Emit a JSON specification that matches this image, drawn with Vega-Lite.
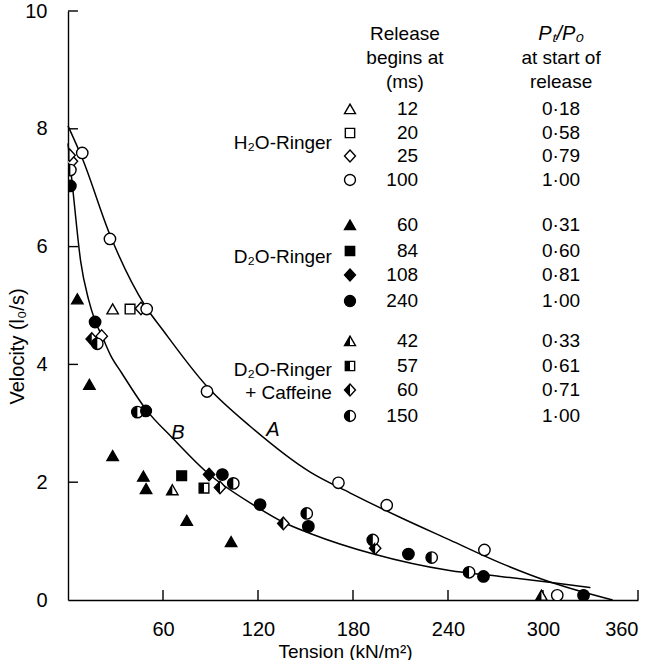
{
  "$schema": "https://vega.github.io/schema/vega-lite/v6.json",
  "width": 570,
  "height": 589,
  "autosize": {"type": "none"},
  "padding": {"left": 68, "top": 11, "right": 19, "bottom": 60},
  "background": "white",
  "config": {
    "view": {"stroke": null},
    "font": "Liberation Sans",
    "axis": {
      "grid": false,
      "domainColor": "black",
      "domainWidth": 1.4,
      "ticks": false,
      "tickSize": 0,
      "labelFont": "Liberation Sans",
      "labelFontSize": 20,
      "labelColor": "black",
      "titleFont": "Liberation Sans",
      "titleFontSize": 19,
      "titleFontWeight": "normal",
      "titleColor": "black"
    }
  },
  "datasets": {
    "pts": [
      {"s": "H12", "g": "H", "x": 28.2, "y": 4.94},
      {"s": "H20", "g": "H", "x": 39.2, "y": 4.94},
      {"s": "H25", "g": "H", "x": 2.5, "y": 7.45},
      {"s": "H25", "g": "H", "x": 21.3, "y": 4.48},
      {"s": "H25", "g": "H", "x": 46.1, "y": 4.95},
      {"s": "H100", "g": "H", "x": 9, "y": 7.59},
      {"s": "H100", "g": "H", "x": 26.5, "y": 6.13},
      {"s": "H100", "g": "H", "x": 49.7, "y": 4.94},
      {"s": "H100", "g": "H", "x": 87.8, "y": 3.54},
      {"s": "H100", "g": "H", "x": 170.8, "y": 1.99},
      {"s": "H100", "g": "H", "x": 201.3, "y": 1.61},
      {"s": "H100", "g": "H", "x": 263, "y": 0.85},
      {"s": "H100", "g": "H", "x": 309, "y": 0.08},
      {"s": "D60", "g": "D", "x": 5.9, "y": 5.11},
      {"s": "D60", "g": "D", "x": 13.5, "y": 3.66},
      {"s": "D60", "g": "D", "x": 28.2, "y": 2.45},
      {"s": "D60", "g": "D", "x": 47.6, "y": 2.1},
      {"s": "D60", "g": "D", "x": 49.3, "y": 1.89},
      {"s": "D60", "g": "D", "x": 75, "y": 1.35},
      {"s": "D60", "g": "D", "x": 103, "y": 0.99},
      {"s": "D84", "g": "D", "x": 71.8, "y": 2.11},
      {"s": "D108", "g": "D", "x": 89.1, "y": 2.13},
      {"s": "D240", "g": "D", "x": 1.5, "y": 7.03},
      {"s": "D240", "g": "D", "x": 17.1, "y": 4.72},
      {"s": "D240", "g": "D", "x": 49.1, "y": 3.21},
      {"s": "D240", "g": "D", "x": 97.5, "y": 2.13},
      {"s": "D240", "g": "D", "x": 121.3, "y": 1.62},
      {"s": "D240", "g": "D", "x": 151.8, "y": 1.25},
      {"s": "D240", "g": "D", "x": 215, "y": 0.78},
      {"s": "D240", "g": "D", "x": 262.4, "y": 0.4},
      {"s": "D240", "g": "D", "x": 325.6, "y": 0.08},
      {"s": "C42", "g": "C", "x": 65.9, "y": 1.87},
      {"s": "C42", "g": "C", "x": 299, "y": 0.08},
      {"s": "C57", "g": "C", "x": 85.9, "y": 1.9},
      {"s": "C60", "g": "C", "x": 1, "y": 7.55},
      {"s": "C60", "g": "C", "x": 15, "y": 4.43},
      {"s": "C60", "g": "C", "x": 96, "y": 1.91},
      {"s": "C60", "g": "C", "x": 136, "y": 1.3},
      {"s": "C60", "g": "C", "x": 194, "y": 0.88},
      {"s": "C150", "g": "C", "x": 1.5, "y": 7.3},
      {"s": "C150", "g": "C", "x": 18.5, "y": 4.35},
      {"s": "C150", "g": "C", "x": 43.8, "y": 3.19},
      {"s": "C150", "g": "C", "x": 104.4, "y": 1.98},
      {"s": "C150", "g": "C", "x": 150.8, "y": 1.47},
      {"s": "C150", "g": "C", "x": 192.5, "y": 1.02},
      {"s": "C150", "g": "C", "x": 229.7, "y": 0.72},
      {"s": "C150", "g": "C", "x": 253.3, "y": 0.47}
    ],
    "leg": [
      {"s": "H12", "g": "H", "num": "12", "ratio": "0·18", "ly": 8.336},
      {"s": "H20", "g": "H", "num": "20", "ratio": "0·58", "ly": 7.929},
      {"s": "H25", "g": "H", "num": "25", "ratio": "0·79", "ly": 7.538},
      {"s": "H100", "g": "H", "num": "100", "ratio": "1·00", "ly": 7.131},
      {"s": "D60", "g": "D", "num": "60", "ratio": "0·31", "ly": 6.367},
      {"s": "D84", "g": "D", "num": "84", "ratio": "0·60", "ly": 5.925},
      {"s": "D108", "g": "D", "num": "108", "ratio": "0·81", "ly": 5.518},
      {"s": "D240", "g": "D", "num": "240", "ratio": "1·00", "ly": 5.076},
      {"s": "C42", "g": "C", "num": "42", "ratio": "0·33", "ly": 4.397},
      {"s": "C57", "g": "C", "num": "57", "ratio": "0·61", "ly": 3.973},
      {"s": "C60", "g": "C", "num": "60", "ratio": "0·71", "ly": 3.565},
      {"s": "C150", "g": "C", "num": "150", "ratio": "1·00", "ly": 3.124}
    ],
    "cur": [
      {"c": "A", "x": 0, "y": 8.05},
      {"c": "A", "x": 9, "y": 7.5},
      {"c": "A", "x": 26.5, "y": 6.2},
      {"c": "A", "x": 48.6, "y": 5.0},
      {"c": "A", "x": 60, "y": 4.58},
      {"c": "A", "x": 88, "y": 3.62},
      {"c": "A", "x": 115, "y": 2.95},
      {"c": "A", "x": 153, "y": 2.17},
      {"c": "A", "x": 178, "y": 1.82},
      {"c": "A", "x": 210, "y": 1.4},
      {"c": "A", "x": 241, "y": 1.02},
      {"c": "A", "x": 273, "y": 0.63},
      {"c": "A", "x": 304, "y": 0.31},
      {"c": "A", "x": 344, "y": 0},
      {"c": "B", "x": 0, "y": 7.75},
      {"c": "B", "x": 3.4, "y": 6.88},
      {"c": "B", "x": 8, "y": 5.75},
      {"c": "B", "x": 13, "y": 5.1},
      {"c": "B", "x": 17, "y": 4.75},
      {"c": "B", "x": 22, "y": 4.45},
      {"c": "B", "x": 27, "y": 4.15},
      {"c": "B", "x": 34, "y": 3.85},
      {"c": "B", "x": 49.7, "y": 3.22},
      {"c": "B", "x": 66, "y": 2.75},
      {"c": "B", "x": 88, "y": 2.16},
      {"c": "B", "x": 118, "y": 1.6},
      {"c": "B", "x": 136, "y": 1.32},
      {"c": "B", "x": 153, "y": 1.13},
      {"c": "B", "x": 193, "y": 0.78},
      {"c": "B", "x": 241, "y": 0.5},
      {"c": "B", "x": 273, "y": 0.4},
      {"c": "B", "x": 304, "y": 0.3},
      {"c": "B", "x": 330, "y": 0.21}
    ]
  },
  "layer": [
    {
      "data": {"name": "cur"},
      "mark": {"type": "line", "color": "black", "strokeWidth": 1.5, "interpolate": "monotone"},
      "encoding": {
        "x": {
          "field": "x", "type": "quantitative",
          "scale": {"domain": [0, 360], "nice": false, "zero": true},
          "axis": {
            "values": [0, 60, 120, 180, 240, 300, 360],
            "labelExpr": "datum.value == 0 ? '' : datum.label",
            "labelPadding": 19,
            "title": "Tension (kN/m²)",
            "titleX": 277,
            "titleY": 57,
            "titleAlign": "center",
            "titleBaseline": "alphabetic"
          }
        },
        "y": {
          "field": "y", "type": "quantitative",
          "scale": {"domain": [0, 10], "nice": false},
          "axis": {
            "values": [0, 2, 4, 6, 8, 10],
            "format": "d",
            "labelPadding": 21,
            "title": "Velocity (l₀/s)",
            "titleFontSize": 20,
            "titleX": -41,
            "titleY": 335,
            "titleAlign": "center"
          }
        },
        "detail": {"field": "c"}
      }
    },
    {
      "data": {"values": [{"v": 60}, {"v": 120}, {"v": 180}, {"v": 240}, {"v": 300}, {"v": 360}]},
      "mark": {"type": "rule", "color": "black", "strokeWidth": 1.4},
      "encoding": {
        "x": {"field": "v", "type": "quantitative"},
        "y": {"datum": 0, "type": "quantitative"},
        "y2": {"datum": 0.17}
      }
    },
    {
      "data": {"values": [{"v": 2}, {"v": 4}, {"v": 6}, {"v": 8}, {"v": 10}]},
      "mark": {"type": "rule", "color": "black", "strokeWidth": 1.4},
      "encoding": {
        "y": {"field": "v", "type": "quantitative"},
        "x": {"datum": 0, "type": "quantitative"},
        "x2": {"datum": 6.3}
      }
    },
    {
      "data": {"values": [{"t": "A", "x": 129.5, "y": 2.89}, {"t": "B", "x": 69.5, "y": 2.84}]},
      "mark": {"type": "text", "fontSize": 20, "fontStyle": "italic", "font": "Liberation Sans", "color": "black", "align": "center", "baseline": "middle"},
      "encoding": {
        "x": {"field": "x", "type": "quantitative"},
        "y": {"field": "y", "type": "quantitative"},
        "text": {"field": "t"}
      }
    },
    {
      "data": {"name": "pts"},
      "mark": {"type": "point", "fill": "white", "stroke": "black", "strokeWidth": 1.4, "opacity": 1, "size": 130, "clip": true},
      "encoding": {
        "x": {"field": "x", "type": "quantitative"},
        "y": {"field": "y", "type": "quantitative"},
        "shape": {
          "field": "s", "type": "nominal", "legend": null,
          "scale": {
            "domain": ["H12","H20","H25","H100","D60","D84","D108","D240","C42","C57","C60","C150"],
            "range": [
              "M0,-0.9 L1,0.85 L-1,0.85 Z",
              "M-0.85,-0.85 L0.85,-0.85 L0.85,0.85 L-0.85,0.85 Z",
              "M0,-1.1 L1,0 L0,1.1 L-1,0 Z",
              "M-1,0 A1,1 0 1,0 1,0 A1,1 0 1,0 -1,0 Z",
              "M0,-0.9 L1,0.85 L-1,0.85 Z",
              "M-0.85,-0.85 L0.85,-0.85 L0.85,0.85 L-0.85,0.85 Z",
              "M0,-1.1 L1,0 L0,1.1 L-1,0 Z",
              "M-1,0 A1,1 0 1,0 1,0 A1,1 0 1,0 -1,0 Z",
              "M0,-0.9 L1,0.85 L-1,0.85 Z",
              "M-0.85,-0.85 L0.85,-0.85 L0.85,0.85 L-0.85,0.85 Z",
              "M0,-1.1 L1,0 L0,1.1 L-1,0 Z",
              "M-1,0 A1,1 0 1,0 1,0 A1,1 0 1,0 -1,0 Z"
            ]
          }
        }
      }
    },
    {
      "data": {"name": "pts"},
      "transform": [{"filter": "datum.g != 'H'"}],
      "mark": {"type": "point", "filled": true, "fill": "black", "opacity": 1, "size": 130, "clip": true},
      "encoding": {
        "x": {"field": "x", "type": "quantitative"},
        "y": {"field": "y", "type": "quantitative"},
        "shape": {
          "field": "s", "type": "nominal", "legend": null,
          "scale": {
            "domain": ["D60","D84","D108","D240","C42","C57","C60","C150"],
            "range": [
              "M0,-0.9 L1,0.85 L-1,0.85 Z",
              "M-0.85,-0.85 L0.85,-0.85 L0.85,0.85 L-0.85,0.85 Z",
              "M0,-1.1 L1,0 L0,1.1 L-1,0 Z",
              "M-1,0 A1,1 0 1,0 1,0 A1,1 0 1,0 -1,0 Z",
              "M0,-0.9 L0,0.85 L-1,0.85 Z",
              "M-0.85,-0.85 L0,-0.85 L0,0.85 L-0.85,0.85 Z",
              "M0,-1.1 L-1,0 L0,1.1 Z",
              "M0,-1 A1,1 0 0,0 0,1 Z"
            ]
          }
        }
      }
    },
    {
      "data": {"name": "leg"},
      "mark": {"type": "point", "fill": "white", "stroke": "black", "strokeWidth": 1.4, "opacity": 1, "size": 120},
      "encoding": {
        "x": {"datum": 178.1, "type": "quantitative"},
        "y": {"field": "ly", "type": "quantitative"},
        "shape": {
          "field": "s", "type": "nominal", "legend": null,
          "scale": {
            "domain": ["H12","H20","H25","H100","D60","D84","D108","D240","C42","C57","C60","C150"],
            "range": [
              "M0,-0.9 L1,0.85 L-1,0.85 Z",
              "M-0.85,-0.85 L0.85,-0.85 L0.85,0.85 L-0.85,0.85 Z",
              "M0,-1.1 L1,0 L0,1.1 L-1,0 Z",
              "M-1,0 A1,1 0 1,0 1,0 A1,1 0 1,0 -1,0 Z",
              "M0,-0.9 L1,0.85 L-1,0.85 Z",
              "M-0.85,-0.85 L0.85,-0.85 L0.85,0.85 L-0.85,0.85 Z",
              "M0,-1.1 L1,0 L0,1.1 L-1,0 Z",
              "M-1,0 A1,1 0 1,0 1,0 A1,1 0 1,0 -1,0 Z",
              "M0,-0.9 L1,0.85 L-1,0.85 Z",
              "M-0.85,-0.85 L0.85,-0.85 L0.85,0.85 L-0.85,0.85 Z",
              "M0,-1.1 L1,0 L0,1.1 L-1,0 Z",
              "M-1,0 A1,1 0 1,0 1,0 A1,1 0 1,0 -1,0 Z"
            ]
          }
        }
      }
    },
    {
      "data": {"name": "leg"},
      "transform": [{"filter": "datum.g != 'H'"}],
      "mark": {"type": "point", "filled": true, "fill": "black", "opacity": 1, "size": 120},
      "encoding": {
        "x": {"datum": 178.1, "type": "quantitative"},
        "y": {"field": "ly", "type": "quantitative"},
        "shape": {
          "field": "s", "type": "nominal", "legend": null,
          "scale": {
            "domain": ["D60","D84","D108","D240","C42","C57","C60","C150"],
            "range": [
              "M0,-0.9 L1,0.85 L-1,0.85 Z",
              "M-0.85,-0.85 L0.85,-0.85 L0.85,0.85 L-0.85,0.85 Z",
              "M0,-1.1 L1,0 L0,1.1 L-1,0 Z",
              "M-1,0 A1,1 0 1,0 1,0 A1,1 0 1,0 -1,0 Z",
              "M0,-0.9 L0,0.85 L-1,0.85 Z",
              "M-0.85,-0.85 L0,-0.85 L0,0.85 L-0.85,0.85 Z",
              "M0,-1.1 L-1,0 L0,1.1 Z",
              "M0,-1 A1,1 0 0,0 0,1 Z"
            ]
          }
        }
      }
    },
    {
      "data": {"name": "leg"},
      "mark": {"type": "text", "fontSize": 19, "font": "Liberation Sans", "color": "black", "align": "right", "baseline": "middle"},
      "encoding": {
        "x": {"datum": 221.1, "type": "quantitative"},
        "y": {"field": "ly", "type": "quantitative"},
        "text": {"field": "num"}
      }
    },
    {
      "data": {"name": "leg"},
      "mark": {"type": "text", "fontSize": 19, "font": "Liberation Sans", "color": "black", "align": "center", "baseline": "middle"},
      "encoding": {
        "x": {"datum": 311.4, "type": "quantitative"},
        "y": {"field": "ly", "type": "quantitative"},
        "text": {"field": "ratio"}
      }
    },
    {
      "data": {"values": [
        {"t": "H₂O-Ringer", "ly": 7.759},
        {"t": "D₂O-Ringer", "ly": 5.823},
        {"t": "D₂O-Ringer", "ly": 3.905},
        {"t": "+ Caffeine", "ly": 3.514}
      ]},
      "mark": {"type": "text", "fontSize": 19, "font": "Liberation Sans", "color": "black", "align": "right", "baseline": "middle"},
      "encoding": {
        "x": {"datum": 166.7, "type": "quantitative"},
        "y": {"field": "ly", "type": "quantitative"},
        "text": {"field": "t"}
      }
    },
    {
      "data": {"values": [
        {"t": "Release", "ly": 9.61},
        {"t": "begins at", "ly": 9.2},
        {"t": "(ms)", "ly": 8.79}
      ]},
      "mark": {"type": "text", "fontSize": 19, "font": "Liberation Sans", "color": "black", "align": "center", "baseline": "middle"},
      "encoding": {
        "x": {"datum": 212.8, "type": "quantitative"},
        "y": {"field": "ly", "type": "quantitative"},
        "text": {"field": "t"}
      }
    },
    {
      "data": {"values": [
        {"t": "at start of", "ly": 9.2},
        {"t": "release", "ly": 8.79}
      ]},
      "mark": {"type": "text", "fontSize": 19, "font": "Liberation Sans", "color": "black", "align": "center", "baseline": "middle"},
      "encoding": {
        "x": {"datum": 311.4, "type": "quantitative"},
        "y": {"field": "ly", "type": "quantitative"},
        "text": {"field": "t"}
      }
    },
    {
      "data": {"values": [{"t": "Pₜ/P₀", "ly": 9.61}]},
      "mark": {"type": "text", "fontSize": 20, "fontStyle": "italic", "font": "Liberation Sans", "color": "black", "align": "center", "baseline": "middle"},
      "encoding": {
        "x": {"datum": 311.4, "type": "quantitative"},
        "y": {"field": "ly", "type": "quantitative"},
        "text": {"field": "t"}
      }
    }
  ],
  "resolve": {"scale": {"shape": "independent"}}
}
